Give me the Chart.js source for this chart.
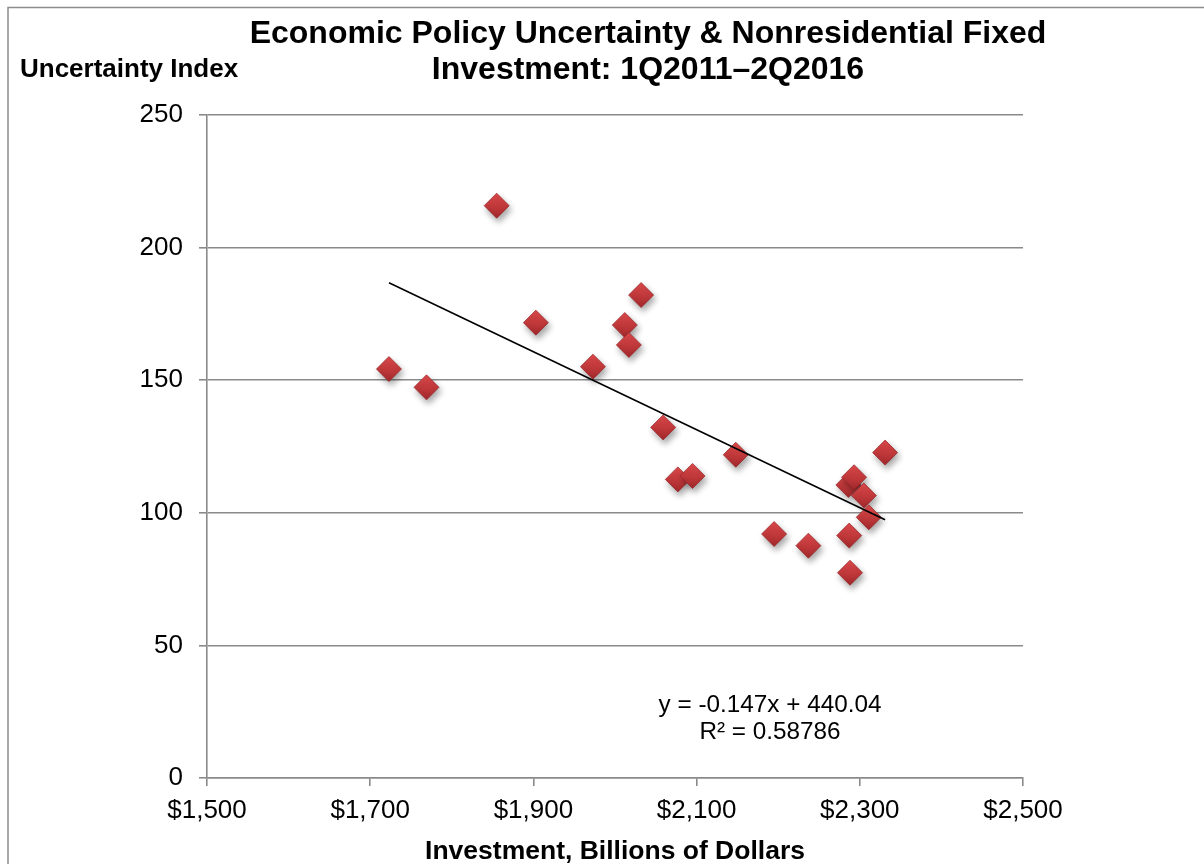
<!DOCTYPE html>
<html>
<head>
<meta charset="utf-8">
<title>Economic Policy Uncertainty & Nonresidential Fixed Investment</title>
<script src="https://cdn.jsdelivr.net/npm/chart.js@4"></script>
<style>
  html, body { margin: 0; padding: 0; background: #ffffff; }
  #wrap { width: 1204px; height: 864px; }
  canvas { display: block; }
</style>
</head>
<body>
<div id="wrap"><canvas id="chart" width="1204" height="864"></canvas></div>
<script>
// Quarterly observations, 1Q2011–2Q2016
// Nonresidential fixed investment, billions of dollars
const investment = [1723, 1769, 1855, 1903, 1973, 2012, 2017, 2032, 2059, 2077, 2095,
                    2148, 2195, 2237, 2286, 2287, 2288, 2293, 2305, 2311, 2331];
// Economic policy uncertainty index
const uncertainty = [154.2, 147.3, 215.8, 171.7, 155.1, 170.8, 163.3, 182.1, 132.2, 112.6, 113.9,
                     121.9, 92.0, 87.6, 110.5, 91.4, 77.4, 113.4, 106.5, 98.3, 122.7];

// Linear trend fitted to the observations
const trendSlope = -0.147;
const trendIntercept = 440.04;
const trendR2 = '0.58786';

const xTickRange = [1500, 2500, 200];
const yTickRange = [0, 250, 50];

const titleLines = ['Economic Policy Uncertainty & Nonresidential Fixed', 'Investment: 1Q2011\u20132Q2016'];
const yAxisTitle = 'Uncertainty Index';
const xAxisTitle = 'Investment, Billions of Dollars';

const FONT = '"Liberation Sans", Arial, Helvetica, sans-serif';
const GRID = '#8a8a8a';

const points = investment.map((x, i) => ({ x: x, y: uncertainty[i] }));
const xMin = Math.min(...investment);
const xMax = Math.max(...investment);
const trendPoints = [xMin, xMax].map(x => ({ x: x, y: trendSlope * x + trendIntercept }));

const MARKER_R = 12.5;

// Vertical red gradient for each diamond marker
function markerFill(ctx) {
  const chart = ctx.chart;
  const ys = chart.scales && chart.scales.y;
  if (!ys || !ctx.parsed) return '#c0363a';
  const py = ys.getPixelForValue(ctx.parsed.y);
  if (!isFinite(py)) return '#c0363a';
  const g = chart.ctx.createLinearGradient(0, py - MARKER_R, 0, py + MARKER_R);
  g.addColorStop(0, '#dd4a4c');
  g.addColorStop(0.5, '#c43a3c');
  g.addColorStop(1, '#a1282b');
  return g;
}

// Soft drop shadow under the markers
const markerShadow = {
  id: 'markerShadow',
  beforeDatasetDraw(chart, args) {
    if (args.index !== 0) return;
    const c = chart.ctx;
    c.save();
    c.shadowColor = 'rgba(0,0,0,0.35)';
    c.shadowBlur = 6;
    c.shadowOffsetX = 2;
    c.shadowOffsetY = 4;
  },
  afterDatasetDraw(chart, args) {
    if (args.index !== 0) return;
    chart.ctx.restore();
  }
};

// Frame, titles and the trend equation
const decorations = {
  id: 'decorations',
  beforeDraw(chart) {
    const c = chart.ctx;
    c.save();
    c.fillStyle = '#ffffff';
    c.fillRect(0, 0, chart.width, chart.height);
    c.strokeStyle = '#8c8c8c';
    c.lineWidth = 1.5;
    c.beginPath();
    c.moveTo(8, chart.height);
    c.lineTo(8, 7.5);
    c.lineTo(chart.width, 7.5);
    c.stroke();
    c.restore();
  },
  afterDraw(chart) {
    const c = chart.ctx;
    const area = chart.chartArea;
    const xs = chart.scales.x;
    const ys = chart.scales.y;
    c.save();
    c.fillStyle = '#000000';
    c.textBaseline = 'alphabetic';

    c.font = 'bold 32px ' + FONT;
    c.textAlign = 'center';
    c.fillText(titleLines[0], 648, 43);
    c.fillText(titleLines[1], 648, 79);

    c.font = 'bold 26px ' + FONT;
    c.textAlign = 'left';
    c.fillText(yAxisTitle, 20, 77);

    c.font = 'bold 26.5px ' + FONT;
    c.textAlign = 'center';
    c.fillText(xAxisTitle, (area.left + area.right) / 2, 859);

    c.font = '24.3px ' + FONT;
    const eqX = xs.getPixelForValue(2190);
    const eqY = ys.getPixelForValue(25);
    c.fillText('y = ' + trendSlope + 'x + ' + trendIntercept.toFixed(2), eqX, eqY);
    c.fillText('R\u00b2 = ' + trendR2, eqX, eqY + 27);
    c.restore();
  }
};

new Chart(document.getElementById('chart'), {
  type: 'scatter',
  data: {
    datasets: [
      {
        label: 'Uncertainty vs. investment',
        data: points,
        pointStyle: 'rectRot',
        pointRadius: MARKER_R,
        pointHoverRadius: MARKER_R,
        backgroundColor: markerFill,
        borderColor: 'rgba(150,35,38,0.9)',
        borderWidth: 0.8,
        order: 1
      },
      {
        type: 'line',
        label: 'Linear trend',
        data: trendPoints,
        borderColor: '#000000',
        borderWidth: 1.6,
        pointRadius: 0,
        fill: false,
        tension: 0,
        order: 0
      }
    ]
  },
  options: {
    responsive: false,
    animation: false,
    events: [],
    layout: { padding: { left: 0, top: 115, right: 181, bottom: 0 } },
    plugins: {
      legend: { display: false },
      title: { display: false },
      tooltip: { enabled: false }
    },
    scales: {
      x: {
        type: 'linear',
        min: xTickRange[0],
        max: xTickRange[1],
        afterFit(s) { s.height = 86; },
        border: { display: true, color: GRID, width: 1.6 },
        grid: { drawOnChartArea: false, drawTicks: true, tickLength: 8, color: GRID, lineWidth: 1.6 },
        ticks: {
          stepSize: xTickRange[2],
          padding: 9,
          color: '#000000',
          font: { family: FONT, size: 26 },
          maxRotation: 0,
          callback: v => '$' + v.toLocaleString('en-US')
        }
      },
      y: {
        type: 'linear',
        min: yTickRange[0],
        max: yTickRange[1],
        afterFit(s) { s.width = 207; },
        border: { display: true, color: GRID, width: 1.6 },
        grid: { drawOnChartArea: true, drawTicks: true, tickLength: 8, color: GRID, lineWidth: 1.6 },
        ticks: {
          stepSize: yTickRange[2],
          padding: 16,
          color: '#000000',
          font: { family: FONT, size: 26 }
        }
      }
    }
  },
  plugins: [decorations, markerShadow]
});
</script>
</body>
</html>
